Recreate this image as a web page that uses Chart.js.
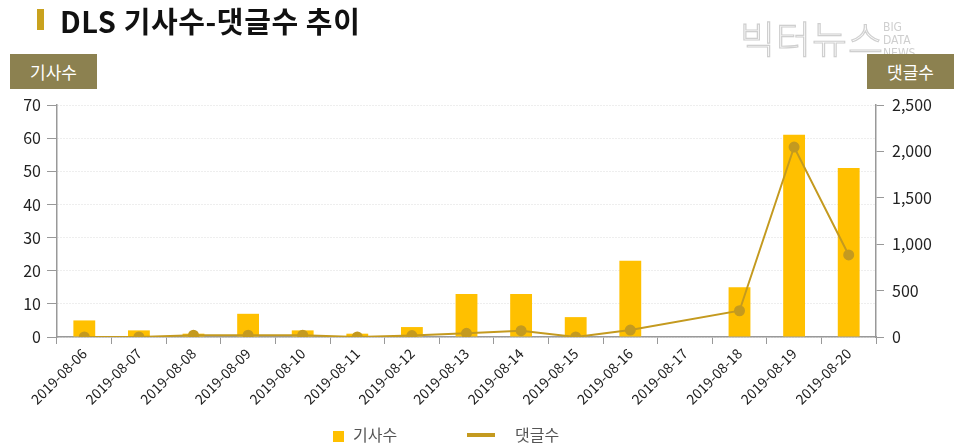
<!DOCTYPE html>
<html><head><meta charset="utf-8">
<script src="https://cdn.jsdelivr.net/npm/chart.js@4"></script>
<style>
html,body{margin:0;padding:0;background:#fff;}
#wrap{position:relative;width:960px;height:448px;overflow:hidden;font-family:"Noto Sans CJK KR","Noto Sans",sans-serif;}
#c{position:absolute;left:0;top:0;}
.title{position:absolute;left:60px;top:0px;font-size:29px;font-weight:bold;color:#111;line-height:40px;letter-spacing:0.6px;}
.mark{position:absolute;left:37px;top:9px;width:7px;height:21px;background:#C9A21E;}
.box{position:absolute;top:54px;width:87px;height:35px;background:#8C8150;color:#fff;font-size:17px;line-height:35px;text-align:center;}
.wm{position:absolute;left:740px;top:12px;font-size:38px;font-weight:300;color:#fff;-webkit-text-stroke:1.2px #cfcfcf;letter-spacing:1px;line-height:50px;}
.wm2{position:absolute;left:883px;top:21px;font-size:12px;color:#cfcfcf;line-height:13px;font-family:"DejaVu Sans Condensed","Liberation Sans Narrow",sans-serif;}
.leg{position:absolute;top:422px;font-size:16px;color:#555;line-height:24px;}
</style></head><body>
<div id="wrap">
<canvas id="c" width="960" height="448"></canvas>
<div class="mark"></div>
<div class="title">DLS 기사수-댓글수 추이</div>
<div class="wm">빅터뉴스</div>
<div class="wm2">BIG<br>DATA<br>NEWS</div>
<div class="box" style="left:10px">기사수</div>
<div class="box" style="left:867px">댓글수</div>
<div class="leg" style="left:333px"><span style="display:inline-block;width:11px;height:11px;background:#FFC000;margin-right:9px;vertical-align:-1px"></span>기사수</div>
<div class="leg" style="left:467px"><span style="display:inline-block;width:28px;height:4px;background:#C49A1F;margin-right:20px;vertical-align:4px"></span>댓글수</div>
</div>
<script>
const categories = ["2019-08-06","2019-08-07","2019-08-08","2019-08-09","2019-08-10","2019-08-11","2019-08-12","2019-08-13","2019-08-14","2019-08-15","2019-08-16","2019-08-17","2019-08-18","2019-08-19","2019-08-20"];
const articles = [5,2,1,7,2,1,3,13,13,6,23,null,15,61,51];
const comments = [0,0,20,20,20,0,15,40,68,0,75,null,283,2047,884];
const leftTicks = [0,10,20,30,40,50,60,70];
const rightTicks = [0,500,1000,1500,2000,2500];

const FONT = '"Noto Sans CJK KR","Noto Sans",sans-serif';
new Chart(document.getElementById('c'), {
  data: {
    labels: categories,
    datasets: [
      {type:'line', label:'댓글수', data: comments, yAxisID:'y1', borderColor:'#C49A1F', backgroundColor:'#C49A1F', borderWidth:2, pointRadius:4.5, pointHoverRadius:4.5, spanGaps:true, tension:0, order:0},
      {type:'bar', label:'기사수', data: articles, yAxisID:'y', backgroundColor:'#FFC000', barPercentage:0.4, categoryPercentage:1.0, order:1}
    ]
  },
  options: {
    responsive:false, animation:false,
    layout:{padding:{top:105, bottom:0, left:0, right:0}},
    plugins:{legend:{display:false}, tooltip:{enabled:false}},
    scales:{
      x:{
        offset:true,
        grid:{display:true, drawOnChartArea:false, offset:true, tickLength:7, color:'#999'},
        border:{color:'#999', width:1.5},
        ticks:{maxRotation:45, minRotation:45, autoSkip:false, color:'#222', font:{family:FONT, size:14}, padding:1},
        afterFit: s => { s.height = 111; }
      },
      y:{
        position:'left', min:0, max:70,
        afterBuildTicks: s => { s.ticks = leftTicks.map(v=>({value:v})); },
        grid:{color:'#dcdcdc', tickLength:10, tickColor:'#999', drawTicks:true, lineWidth:1},
        border:{color:'#999', width:1.5, dash:[1,2]},
        ticks:{color:'#222', font:{family:FONT, size:16}, padding:6},
        afterFit: s => { s.width = 57; }
      },
      y1:{
        position:'right', min:0, max:2500,
        afterBuildTicks: s => { s.ticks = rightTicks.map(v=>({value:v})); },
        grid:{drawOnChartArea:false, tickLength:8, color:'#999'},
        border:{color:'#999', width:1.5},
        ticks:{color:'#222', font:{family:FONT, size:16}, padding:8, callback: v => v.toLocaleString('en-US')},
        afterFit: s => { s.width = 84; }
      }
    }
  }
});
</script>
</body></html>
